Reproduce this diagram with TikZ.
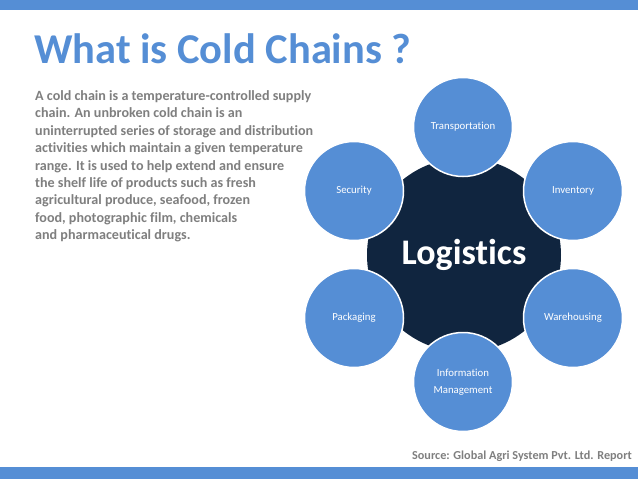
\documentclass[tikz,border=0pt]{standalone}
\usepackage{fontspec}
\setmainfont{Carlito}[RawFeature={-liga}]
\definecolor{barblue}{HTML}{558ED5}
\definecolor{titleblue}{HTML}{558ED5}
\definecolor{satblue}{HTML}{558ED5}
\definecolor{navy}{HTML}{10253F}
\definecolor{bodygrey}{HTML}{7F7F7F}
\begin{document}
\begin{tikzpicture}[x=1pt,y=-1pt,
  sat/.style={circle, fill=satblue, draw=white, line width=1.5pt, minimum size=99pt,
    inner sep=0pt, text=white, font=\fontsize{10.8}{17}\selectfont, align=center},
  bodyline/.style={anchor=base west, inner sep=0pt, text=bodygrey,
    font=\fontsize{14.1}{15}\selectfont\bfseries}]
\useasboundingbox (0,0) rectangle (638,479);
\fill[white] (0,0) rectangle (638,479);
\fill[barblue] (0,0) rectangle (638,10);
\fill[barblue] (0,467) rectangle (638,479);
\node[anchor=base west, inner sep=0pt, text=titleblue, font=\fontsize{42.5}{42.5}\selectfont\bfseries] (title) at (34,63) {What is Cold Chains ?};
\foreach \t [count=\i from 0] in {
  {A cold chain is a temperature-controlled supply},
  {chain. An unbroken cold chain is an},
  {uninterrupted series of storage and distribution},
  {activities which maintain a given temperature},
  {range. It is used to help extend and ensure},
  {the shelf life of products such as fresh},
  {agricultural produce, seafood, frozen},
  {food, photographic film, chemicals},
  {and pharmaceutical drugs.}}
  \node[bodyline] (body\i) at (35,{100.5+17.4*\i}) {\t};
\node[circle, fill=navy, minimum size=194pt, inner sep=0pt] (logistics) at (464,255) {};
\node[anchor=base, inner sep=0pt, text=white, font=\fontsize{36}{36}\selectfont\bfseries] (logtext) at (464,264) {Logistics};
\node[sat] (transport) at (463,127) {Transportation};
\node[sat] (inventory) at (573,191) {Inventory};
\node[sat] (warehouse) at (573,318) {Warehousing};
\node[sat] (info) at (463,382) {Information\\Management};
\node[sat] (packaging) at (354,318) {Packaging};
\node[sat] (security) at (354,191) {Security};
\node[anchor=base east, inner sep=0pt, text=bodygrey, font=\fontsize{12.2}{14}\selectfont\bfseries] (source) at (632,459) {Source: Global Agri System Pvt. Ltd. Report};
\end{tikzpicture}
\end{document}
